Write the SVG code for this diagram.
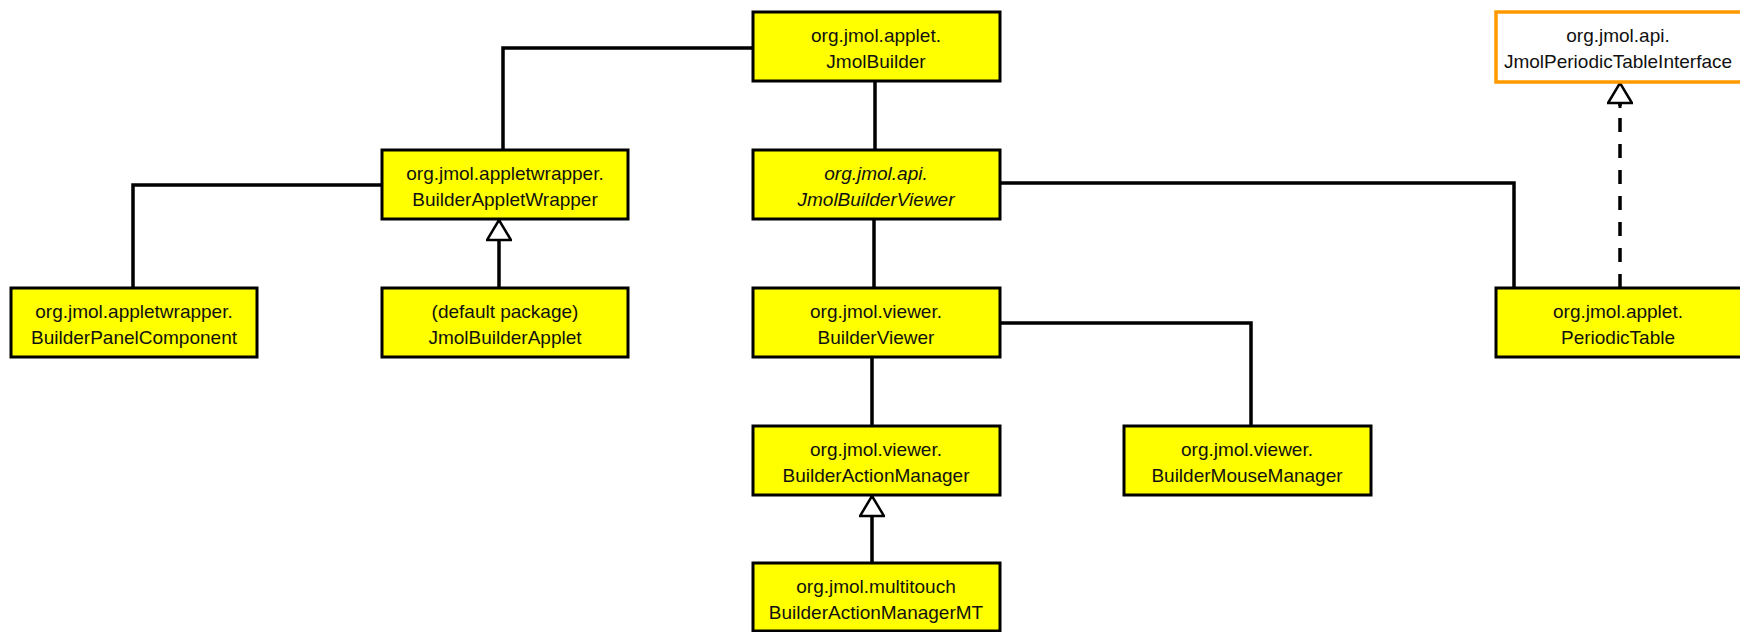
<svg xmlns="http://www.w3.org/2000/svg" width="1740" height="632" viewBox="0 0 1740 632">
  <style>
    .cls { fill: #ffff00; stroke: #000; stroke-width: 3; }
    .iface { fill: #fff; stroke: #ff9900; stroke-width: 3.5; }
    .lbl { font-family: "Liberation Sans", Arial, sans-serif; font-size: 19px; fill: #111; text-anchor: middle; }
    .it { font-style: italic; }
    .link { fill: none; stroke: #000; stroke-width: 3.5; }
    .gen { marker-end: url(#hollow); }
    .dash { stroke-dasharray: 14 12; }
  </style>
  <defs>
    <marker id="hollow" viewBox="0 0 24 26" refX="22" refY="13" markerWidth="24" markerHeight="26" markerUnits="userSpaceOnUse" orient="auto">
      <path d="M2,1 L22,13 L2,25 Z" fill="#fff" stroke="#000" stroke-width="2.5" stroke-linejoin="miter"/>
    </marker>
  </defs>
  <rect width="1740" height="632" fill="#fff"/>

  <g id="connectors">
    <polyline class="link" points="753,48 503,48 503,150"/>
    <line class="link" x1="875" y1="81" x2="875" y2="150"/>
    <polyline class="link" points="382,185 133,185 133,288"/>
    <line class="link gen" x1="499" y1="288" x2="499" y2="220"/>
    <line class="link" x1="874" y1="219" x2="874" y2="288"/>
    <polyline class="link" points="1000,183 1514,183 1514,288"/>
    <polyline class="link" points="1000,323 1251,323 1251,426"/>
    <line class="link" x1="872" y1="357" x2="872" y2="426"/>
    <line class="link gen" x1="872" y1="563" x2="872" y2="496"/>
    <line class="link dash" x1="1620" y1="288" x2="1620" y2="104"/>
    <line class="link gen" x1="1620" y1="108" x2="1620" y2="83" style="stroke-width:3"/>
  </g>

  <g id="JmolBuilder">
    <rect class="cls" x="753" y="12" width="247" height="69"/>
    <text class="lbl" x="876" y="42">org.jmol.applet.</text>
    <text class="lbl" x="876" y="68">JmolBuilder</text>
  </g>
  <g id="BuilderAppletWrapper">
    <rect class="cls" x="382" y="150" width="246" height="69"/>
    <text class="lbl" x="505" y="180">org.jmol.appletwrapper.</text>
    <text class="lbl" x="505" y="206">BuilderAppletWrapper</text>
  </g>
  <g id="JmolBuilderViewer">
    <rect class="cls" x="753" y="150" width="247" height="69"/>
    <text class="lbl it" x="876" y="180">org.jmol.api.</text>
    <text class="lbl it" x="876" y="206">JmolBuilderViewer</text>
  </g>
  <g id="BuilderPanelComponent">
    <rect class="cls" x="11" y="288" width="246" height="69"/>
    <text class="lbl" x="134" y="318">org.jmol.appletwrapper.</text>
    <text class="lbl" x="134" y="344">BuilderPanelComponent</text>
  </g>
  <g id="JmolBuilderApplet">
    <rect class="cls" x="382" y="288" width="246" height="69"/>
    <text class="lbl" x="505" y="318">(default package)</text>
    <text class="lbl" x="505" y="344">JmolBuilderApplet</text>
  </g>
  <g id="BuilderViewer">
    <rect class="cls" x="753" y="288" width="247" height="69"/>
    <text class="lbl" x="876" y="318">org.jmol.viewer.</text>
    <text class="lbl" x="876" y="344">BuilderViewer</text>
  </g>
  <g id="BuilderActionManager">
    <rect class="cls" x="753" y="426" width="247" height="69"/>
    <text class="lbl" x="876" y="456">org.jmol.viewer.</text>
    <text class="lbl" x="876" y="482">BuilderActionManager</text>
  </g>
  <g id="BuilderActionManagerMT">
    <rect class="cls" x="753" y="563" width="247" height="68"/>
    <text class="lbl" x="876" y="593">org.jmol.multitouch</text>
    <text class="lbl" x="876" y="619">BuilderActionManagerMT</text>
  </g>
  <g id="BuilderMouseManager">
    <rect class="cls" x="1124" y="426" width="247" height="69"/>
    <text class="lbl" x="1247" y="456">org.jmol.viewer.</text>
    <text class="lbl" x="1247" y="482">BuilderMouseManager</text>
  </g>
  <g id="JmolPeriodicTableInterface">
    <rect class="iface" x="1496" y="12" width="250" height="70"/>
    <text class="lbl" x="1618" y="42">org.jmol.api.</text>
    <text class="lbl" x="1618" y="68">JmolPeriodicTableInterface</text>
  </g>
  <g id="PeriodicTable">
    <rect class="cls" x="1496" y="288" width="250" height="69"/>
    <text class="lbl" x="1618" y="318">org.jmol.applet.</text>
    <text class="lbl" x="1618" y="344">PeriodicTable</text>
  </g>
</svg>
